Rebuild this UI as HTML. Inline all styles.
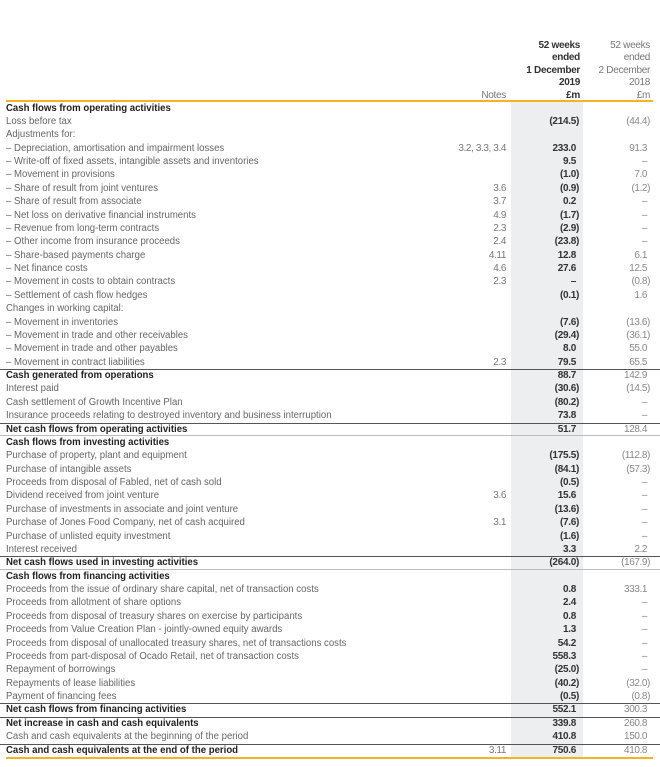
<!DOCTYPE html>
<html><head><meta charset="utf-8"><style>
body{margin:0;background:#fff;width:660px;height:767px;position:relative;overflow:hidden;font-family:"Liberation Sans",sans-serif;}
.band{position:absolute;left:511px;top:102px;width:72px;height:656px;background:#eceef0;}
.hd{position:absolute;font-size:10px;line-height:12.4px;text-align:right;letter-spacing:-0.3px}
.ol{position:absolute;left:6px;width:647px;height:2px;background:#f5b324;}
#rows{position:absolute;left:0;top:101.5px;width:660px;}
.r{height:13.375px;position:relative;font-size:10px;line-height:13.375px;color:#666;}
.r span{position:absolute;white-space:nowrap;}
.l{left:6px;transform:scaleX(0.96);transform-origin:left center;}
.n{right:154px;letter-spacing:-0.4px;color:#777}
.a{right:81px;font-weight:bold;color:#333;letter-spacing:-0.3px}
.c{right:10px;color:#888;letter-spacing:-0.4px}
.b .l{font-weight:bold;color:#222;}
.t{box-shadow:inset 0 1px 0 #555;}
.u{box-shadow:inset 0 -1px 0 #999;}
.t.u{box-shadow:inset 0 1px 0 #555, inset 0 -1px 0 #bbb;}
i{visibility:hidden;font-style:normal}
</style></head><body>
<div class="band"></div>
<div class="hd" style="right:80px;top:40px;font-weight:bold;color:#333">52 weeks<br>ended<br>1 December<br>2019<br>£m</div>
<div class="hd" style="right:10px;top:40px;color:#777">52 weeks<br>ended<br>2 December<br>2018<br>£m</div>
<div class="hd" style="right:154px;top:89.6px;color:#777">Notes</div>
<div class="ol" style="top:100px"></div>
<div class="ol" style="top:757px"></div>
<div id="rows">
<div class="r b"><span class="l">Cash flows from operating activities</span></div>
<div class="r"><span class="l">Loss before tax</span><span class="a">(214.5)</span><span class="c">(44.4)</span></div>
<div class="r"><span class="l">Adjustments for:</span></div>
<div class="r"><span class="l">– Depreciation, amortisation and impairment losses</span><span class="n">3.2, 3.3, 3.4</span><span class="a">233.0<i>)</i></span><span class="c">91.3<i>)</i></span></div>
<div class="r"><span class="l">– Write-off of fixed assets, intangible assets and inventories</span><span class="a">9.5<i>)</i></span><span class="c">–<i>)</i></span></div>
<div class="r"><span class="l">– Movement in provisions</span><span class="a">(1.0)</span><span class="c">7.0<i>)</i></span></div>
<div class="r"><span class="l">– Share of result from joint ventures</span><span class="n">3.6</span><span class="a">(0.9)</span><span class="c">(1.2)</span></div>
<div class="r"><span class="l">– Share of result from associate</span><span class="n">3.7</span><span class="a">0.2<i>)</i></span><span class="c">–<i>)</i></span></div>
<div class="r"><span class="l">– Net loss on derivative financial instruments</span><span class="n">4.9</span><span class="a">(1.7)</span><span class="c">–<i>)</i></span></div>
<div class="r"><span class="l">– Revenue from long-term contracts</span><span class="n">2.3</span><span class="a">(2.9)</span><span class="c">–<i>)</i></span></div>
<div class="r"><span class="l">– Other income from insurance proceeds</span><span class="n">2.4</span><span class="a">(23.8)</span><span class="c">–<i>)</i></span></div>
<div class="r"><span class="l">– Share-based payments charge</span><span class="n">4.11</span><span class="a">12.8<i>)</i></span><span class="c">6.1<i>)</i></span></div>
<div class="r"><span class="l">– Net finance costs</span><span class="n">4.6</span><span class="a">27.6<i>)</i></span><span class="c">12.5<i>)</i></span></div>
<div class="r"><span class="l">– Movement in costs to obtain contracts</span><span class="n">2.3</span><span class="a">–<i>)</i></span><span class="c">(0.8)</span></div>
<div class="r"><span class="l">– Settlement of cash flow hedges</span><span class="a">(0.1)</span><span class="c">1.6<i>)</i></span></div>
<div class="r"><span class="l">Changes in working capital:</span></div>
<div class="r"><span class="l">– Movement in inventories</span><span class="a">(7.6)</span><span class="c">(13.6)</span></div>
<div class="r"><span class="l">– Movement in trade and other receivables</span><span class="a">(29.4)</span><span class="c">(36.1)</span></div>
<div class="r"><span class="l">– Movement in trade and other payables</span><span class="a">8.0<i>)</i></span><span class="c">55.0<i>)</i></span></div>
<div class="r"><span class="l">– Movement in contract liabilities</span><span class="n">2.3</span><span class="a">79.5<i>)</i></span><span class="c">65.5<i>)</i></span></div>
<div class="r b t"><span class="l">Cash generated from operations</span><span class="a">88.7<i>)</i></span><span class="c">142.9<i>)</i></span></div>
<div class="r"><span class="l">Interest paid</span><span class="a">(30.6)</span><span class="c">(14.5)</span></div>
<div class="r"><span class="l">Cash settlement of Growth Incentive Plan</span><span class="a">(80.2)</span><span class="c">–<i>)</i></span></div>
<div class="r"><span class="l">Insurance proceeds relating to destroyed inventory and business interruption</span><span class="a">73.8<i>)</i></span><span class="c">–<i>)</i></span></div>
<div class="r b t u"><span class="l">Net cash flows from operating activities</span><span class="a">51.7<i>)</i></span><span class="c">128.4<i>)</i></span></div>
<div class="r b"><span class="l">Cash flows from investing activities</span></div>
<div class="r"><span class="l">Purchase of property, plant and equipment</span><span class="a">(175.5)</span><span class="c">(112.8)</span></div>
<div class="r"><span class="l">Purchase of intangible assets</span><span class="a">(84.1)</span><span class="c">(57.3)</span></div>
<div class="r"><span class="l">Proceeds from disposal of Fabled, net of cash sold</span><span class="a">(0.5)</span><span class="c">–<i>)</i></span></div>
<div class="r"><span class="l">Dividend received from joint venture</span><span class="n">3.6</span><span class="a">15.6<i>)</i></span><span class="c">–<i>)</i></span></div>
<div class="r"><span class="l">Purchase of investments in associate and joint venture</span><span class="a">(13.6)</span><span class="c">–<i>)</i></span></div>
<div class="r"><span class="l">Purchase of Jones Food Company, net of cash acquired</span><span class="n">3.1</span><span class="a">(7.6)</span><span class="c">–<i>)</i></span></div>
<div class="r"><span class="l">Purchase of unlisted equity investment</span><span class="a">(1.6)</span><span class="c">–<i>)</i></span></div>
<div class="r"><span class="l">Interest received</span><span class="a">3.3<i>)</i></span><span class="c">2.2<i>)</i></span></div>
<div class="r b t u"><span class="l">Net cash flows used in investing activities</span><span class="a">(264.0)</span><span class="c">(167.9)</span></div>
<div class="r b"><span class="l">Cash flows from financing activities</span></div>
<div class="r"><span class="l">Proceeds from the issue of ordinary share capital, net of transaction costs</span><span class="a">0.8<i>)</i></span><span class="c">333.1<i>)</i></span></div>
<div class="r"><span class="l">Proceeds from allotment of share options</span><span class="a">2.4<i>)</i></span><span class="c">–<i>)</i></span></div>
<div class="r"><span class="l">Proceeds from disposal of treasury shares on exercise by participants</span><span class="a">0.8<i>)</i></span><span class="c">–<i>)</i></span></div>
<div class="r"><span class="l">Proceeds from Value Creation Plan - jointly-owned equity awards</span><span class="a">1.3<i>)</i></span><span class="c">–<i>)</i></span></div>
<div class="r"><span class="l">Proceeds from disposal of unallocated treasury shares, net of transactions costs</span><span class="a">54.2<i>)</i></span><span class="c">–<i>)</i></span></div>
<div class="r"><span class="l">Proceeds from part-disposal of Ocado Retail, net of transaction costs</span><span class="a">558.3<i>)</i></span><span class="c">–<i>)</i></span></div>
<div class="r"><span class="l">Repayment of borrowings</span><span class="a">(25.0)</span><span class="c">–<i>)</i></span></div>
<div class="r"><span class="l">Repayments of lease liabilities</span><span class="a">(40.2)</span><span class="c">(32.0)</span></div>
<div class="r"><span class="l">Payment of financing fees</span><span class="a">(0.5)</span><span class="c">(0.8)</span></div>
<div class="r b t"><span class="l">Net cash flows from financing activities</span><span class="a">552.1<i>)</i></span><span class="c">300.3<i>)</i></span></div>
<div class="r b t"><span class="l">Net increase in cash and cash equivalents</span><span class="a">339.8<i>)</i></span><span class="c">260.8<i>)</i></span></div>
<div class="r"><span class="l">Cash and cash equivalents at the beginning of the period</span><span class="a">410.8<i>)</i></span><span class="c">150.0<i>)</i></span></div>
<div class="r b t"><span class="l">Cash and cash equivalents at the end of the period</span><span class="n">3.11</span><span class="a">750.6<i>)</i></span><span class="c">410.8<i>)</i></span></div>
</div>
</body></html>
